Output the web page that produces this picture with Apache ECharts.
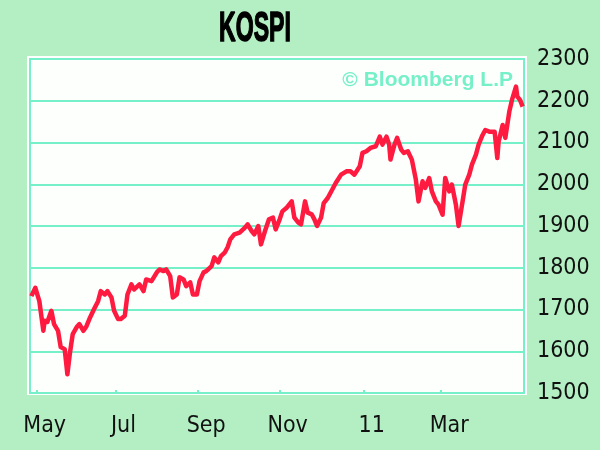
<!DOCTYPE html>
<html>
<head>
<meta charset="utf-8">
<script src="https://cdn.jsdelivr.net/npm/echarts@6/dist/echarts.min.js"></script>
<style>
html,body{margin:0;padding:0;background:#b3efc2;}
#c{width:600px;height:450px;}
</style>
</head>
<body>
<div id="c"></div>
<script>
// KOSPI index, daily-ish readings
const dates = [
"2010-04-29","2010-05-02","2010-05-05","2010-05-08","2010-05-09","2010-05-11","2010-05-14","2010-05-15","2010-05-16","2010-05-19",
"2010-05-21","2010-05-24","2010-05-26","2010-05-28","2010-05-30","2010-06-02","2010-06-04","2010-06-07","2010-06-09","2010-06-12",
"2010-06-15","2010-06-18","2010-06-20","2010-06-23","2010-06-25","2010-06-28","2010-06-30","2010-07-03","2010-07-05","2010-07-08",
"2010-07-10","2010-07-13","2010-07-15","2010-07-19","2010-07-22","2010-07-24","2010-07-28","2010-08-01","2010-08-03","2010-08-06",
"2010-08-08","2010-08-11","2010-08-13","2010-08-16","2010-08-18","2010-08-21","2010-08-23","2010-08-26","2010-08-28","2010-08-31",
"2010-09-02","2010-09-05","2010-09-07","2010-09-11","2010-09-13","2010-09-16","2010-09-18","2010-09-21","2010-09-23","2010-09-25",
"2010-09-28","2010-10-02","2010-10-06","2010-10-08","2010-10-11","2010-10-13","2010-10-16","2010-10-18","2010-10-21","2010-10-24",
"2010-10-27","2010-10-29","2010-11-01","2010-11-03","2010-11-06","2010-11-10","2010-11-12","2010-11-15","2010-11-17","2010-11-20",
"2010-11-22","2010-11-25","2010-11-27","2010-11-29","2010-12-02","2010-12-04","2010-12-07","2010-12-09","2010-12-13","2010-12-17",
"2010-12-21","2010-12-24","2010-12-27","2010-12-31","2011-01-02","2011-01-05","2011-01-08","2011-01-12","2011-01-15","2011-01-17",
"2011-01-20","2011-01-22","2011-01-23","2011-01-26","2011-01-28","2011-01-31","2011-02-02","2011-02-05","2011-02-08","2011-02-11",
"2011-02-13","2011-02-16","2011-02-18","2011-02-21","2011-02-23","2011-02-26","2011-02-28","2011-03-03","2011-03-05","2011-03-08",
"2011-03-10","2011-03-13","2011-03-15","2011-03-18","2011-03-20","2011-03-23","2011-03-25","2011-03-28","2011-03-30","2011-04-02",
"2011-04-04","2011-04-07","2011-04-11","2011-04-13","2011-04-14","2011-04-17","2011-04-19","2011-04-22","2011-04-24","2011-04-27",
"2011-04-28","2011-04-30","2011-05-02"
];
const values = [
1732,1752,1720,1649,1673,1670,1697,1701,1665,1649,
1610,1605,1545,1598,1641,1658,1665,1649,1658,1681,
1701,1720,1744,1736,1744,1729,1697,1677,1677,1685,
1736,1760,1748,1760,1744,1772,1768,1789,1796,1792,
1796,1780,1729,1736,1777,1772,1756,1765,1736,1736,
1768,1789,1792,1804,1825,1813,1828,1837,1849,1868,
1880,1884,1896,1904,1888,1880,1900,1856,1888,1916,
1920,1892,1916,1935,1943,1959,1920,1908,1904,1959,
1932,1928,1916,1900,1920,1955,1967,1979,2003,2023,
2031,2031,2023,2043,2075,2079,2087,2091,2114,2095,
2114,2095,2059,2095,2111,2083,2075,2079,2059,2011,
1959,2007,1991,2015,1983,1959,1951,1927,2015,1983,
1999,1951,1900,1959,1999,2023,2047,2071,2095,2118,
2130,2126,2126,2063,2102,2142,2111,2174,2202,2234,
2210,2202,2186
];
const tickDates = ["2010-05-03","2010-07-01","2010-09-01","2010-11-01","2011-01-03","2011-03-02"];
const tickLabels = ["May","Jul","Sep","Nov","11","Mar"];
const yTicks = [1500,1600,1700,1800,1900,2000,2100,2200,2300];
const titleText = "KOSPI";
const creditText = "\u00A9 Bloomberg L.P";

const ts = s => new Date(s + "T00:00:00Z").getTime();
const tickTs = tickDates.map(ts);
const labelOf = {};
tickTs.forEach((t, i) => { labelOf[t] = tickLabels[i]; });

const teal = "#76f0c8";
const labelFont = "'DejaVu Sans Condensed', 'Liberation Sans', sans-serif";
const chart = echarts.init(document.getElementById("c"), null, {renderer: "canvas"});
chart.setOption({
  backgroundColor: "#b3efc2",
  animation: false,
  grid: {
    left: 30, right: 76, top: 59, bottom: 57,
    show: true, backgroundColor: "#fdfffd", borderColor: teal, borderWidth: 2
  },
  graphic: [
    {type: "rect", z: -10, silent: true, shape: {x: 27, y: 56, width: 500, height: 339}, style: {fill: "#ffffff"}},
    {type: "text", x: 255, y: 29, scaleX: 0.55, z: 10, style: {text: titleText, font: "bold 42px 'Liberation Sans'", fill: "#000", stroke: "#000", lineWidth: 1.5, align: "center", verticalAlign: "middle"}},
    {type: "text", x: 513, y: 80, z: 10, style: {text: creditText, font: "bold 21px 'Liberation Sans'", fill: teal, align: "right", verticalAlign: "middle"}}
  ],
  xAxis: {
    type: "value",
    min: ts("2010-04-28"),
    max: ts("2011-05-03"),
    splitLine: {show: false},
    axisLine: {show: false},
    axisTick: {show: true, inside: true, length: 3, customValues: tickTs, lineStyle: {color: teal, width: 2}},
    axisLabel: {
      customValues: tickTs,
      formatter: v => labelOf[v] || "",
      fontFamily: labelFont, fontSize: 23, color: "#111",
      margin: 22, padding: [0, 0, 0, 16]
    }
  },
  yAxis: {
    type: "value",
    position: "right",
    min: yTicks[0], max: yTicks[yTicks.length - 1], interval: 100,
    axisLine: {show: false},
    axisTick: {show: false},
    splitLine: {show: true, lineStyle: {color: teal, width: 2}},
    axisLabel: {formatter: v => String(v), fontFamily: labelFont, fontSize: 23, color: "#111", margin: 13, padding: [7, 0, 0, 0]}
  },
  series: [{
    type: "line",
    data: dates.map((d, i) => [ts(d), values[i]]),
    showSymbol: false,
    lineStyle: {color: "#ff1a40", width: 4.5, join: "round"},
    z: 5
  }]
});
</script>
</body>
</html>
